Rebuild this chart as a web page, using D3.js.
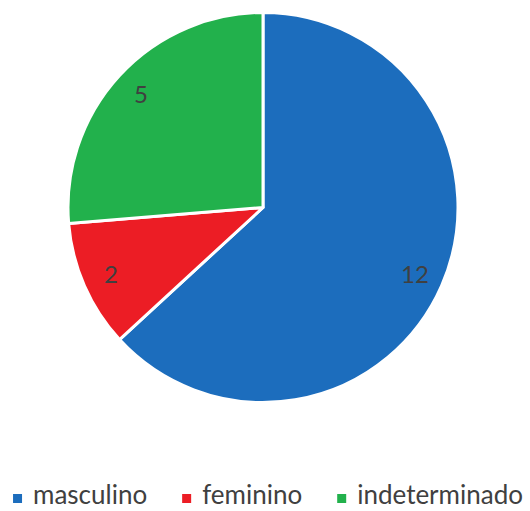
<!DOCTYPE html>
<html>
<head>
<meta charset="utf-8">
<script src="https://cdn.jsdelivr.net/npm/d3@7"></script>
<style>
  body { margin: 0; background: #fff; }
  text { font-family: Lato, "Open Sans", sans-serif; }
</style>
</head>
<body>
<svg width="530" height="511"></svg>
<script>
const categories = ['masculino', 'feminino', 'indeterminado'];
const values = [12, 2, 5];
const colors = ['#1c6dbd', '#ec1d25', '#22b14c'];

const svg = d3.select('svg');
const width = +svg.attr('width');

const cx = 263;
const cy = 207.5;
const radius = 195;
const labelRadius = 166;

const data = categories.map((c, i) => ({ name: c, value: values[i], color: colors[i] }));

const pie = d3.pie()
    .value(d => d.value)
    .sort(null);

const arc = d3.arc()
    .innerRadius(0)
    .outerRadius(radius);

const labelArc = d3.arc()
    .innerRadius(labelRadius)
    .outerRadius(labelRadius);

const g = svg.append('g')
    .attr('transform', `translate(${cx},${cy})`);

const arcs = pie(data);

g.selectAll('path').data(arcs)
    .enter().append('path')
    .attr('d', arc)
    .attr('fill', d => d.data.color)
    .attr('stroke', '#fff')
    .attr('stroke-width', 3)
    .attr('stroke-linejoin', 'round');

g.selectAll('text.value').data(arcs)
    .enter().append('text')
    .attr('class', 'value')
    .attr('transform', d => `translate(${labelArc.centroid(d)})`)
    .attr('text-anchor', 'middle')
    .attr('dy', '0.35em')
    .attr('font-size', 24)
    .attr('fill', '#404040')
    .text(d => d.data.value);

// legend
const legend = svg.append('g');
const items = legend.selectAll('g').data(data)
    .enter().append('g');

items.append('rect')
    .attr('width', 9)
    .attr('height', 9)
    .attr('y', -10)
    .attr('fill', d => d.color);

items.append('text')
    .attr('x', 20)
    .attr('font-size', 26)
    .attr('fill', '#404040')
    .text(d => d.name);

let x = 0;
items.each(function() {
    const item = d3.select(this);
    item.attr('transform', `translate(${x},0)`);
    const w = item.select('text').node().getComputedTextLength();
    x += 20 + w + 35;
});
const total = x - 35;
legend.attr('transform', `translate(${(width - total) / 2 + 3},504)`);
</script>
</body>
</html>
